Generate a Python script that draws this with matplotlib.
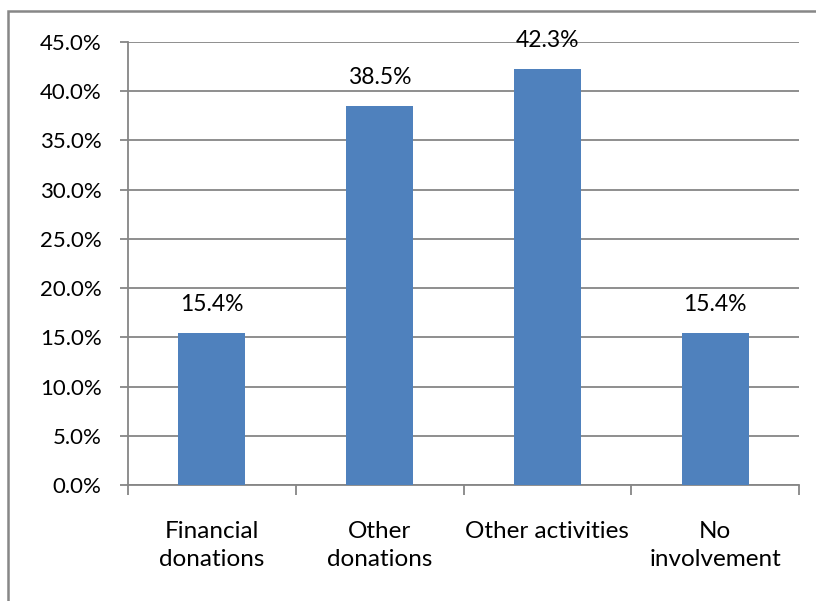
import numpy as np
from matplotlib import pyplot as plt
from matplotlib.patches import Rectangle

# Share of responses per type of involvement (%)
categories = ['Financial\ndonations', 'Other\ndonations', 'Other activities', 'No\ninvolvement']
shares = [15.4, 38.5, 42.3, 15.4]
y_ticks = [0, 5, 10, 15, 20, 25, 30, 35, 40, 45]

bar_color = '#4F81BD'
line_color = '#868686'

plt.rcParams['font.family'] = ['Lato', 'DejaVu Sans']
plt.rcParams['font.size'] = 16

fig = plt.figure(figsize=(8.16, 6.01), dpi=100)
ax = fig.add_axes([128 / 816, 1 - 485 / 601, (799 - 128) / 816, (485 - 42) / 601])

# Chart border
fig.patches.append(Rectangle((8 / 816, -0.05), 1.2, 1 - 11 / 601 + 0.05,
                             transform=fig.transFigure, fill=False,
                             edgecolor='#878787', linewidth=1.8))

x = np.arange(len(categories))
bars = ax.bar(x, shares, width=0.4, color=bar_color, zorder=3)

for xi, v in zip(x, shares):
    ax.annotate(f'{v:.1f}%', (xi, v), xytext=(0, 13), textcoords='offset points',
                ha='center', va='bottom', fontsize=16.5)

ax.set_xlim(-0.5, len(categories) - 0.5)
ax.set_ylim(0, 45)
ax.set_yticks(y_ticks)
ax.set_yticklabels([f'{t:.1f}%' for t in y_ticks])
ax.yaxis.grid(True, color=line_color, linewidth=1.3, zorder=0)
ax.tick_params(axis='y', length=6, width=1.3, color=line_color, pad=13)

ax.set_xticks(x)
ax.set_xticklabels(categories, linespacing=1.4, fontsize=17.5)
ax.set_xticks(np.arange(-0.5, len(categories)), minor=True)
ax.tick_params(axis='x', which='major', length=0, pad=26)
ax.tick_params(axis='x', which='minor', length=7, width=1.3, color=line_color)

for side in ['top', 'right']:
    ax.spines[side].set_visible(False)
for side in ['left', 'bottom']:
    ax.spines[side].set_color(line_color)
    ax.spines[side].set_linewidth(1.3)

fig.savefig('out.png', dpi=100)
